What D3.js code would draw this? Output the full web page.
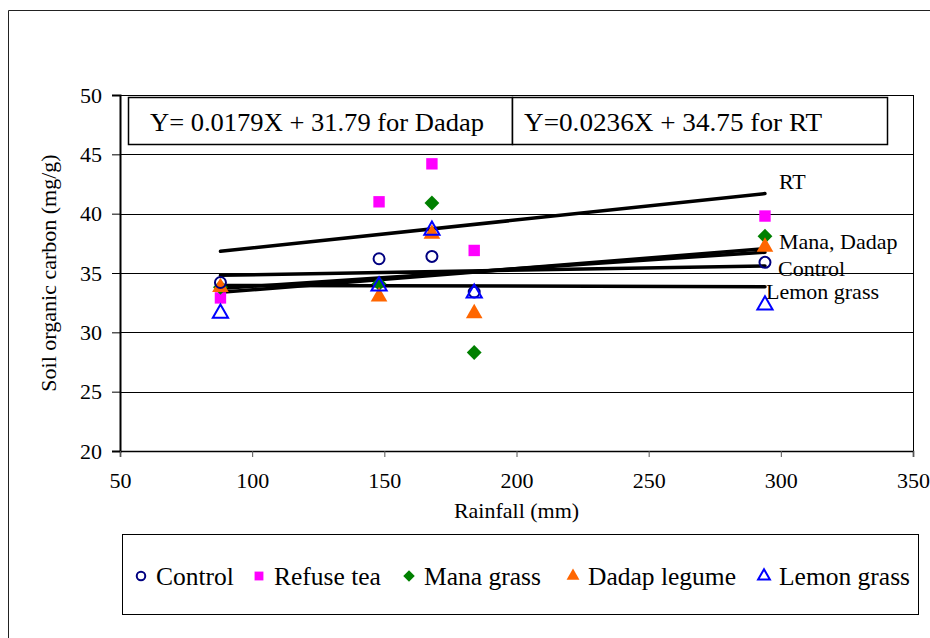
<!DOCTYPE html>
<html>
<head>
<meta charset="utf-8">
<script src="https://cdn.jsdelivr.net/npm/d3@7"></script>
<style>
  html, body { margin: 0; padding: 0; background: #fff; }
  svg { display: block; }
  text { font-family: "Liberation Serif", "Times New Roman", serif; fill: #000; }
</style>
</head>
<body>
<svg id="chart" width="930" height="638"></svg>
<script>
// ---- data ----
const rainfall = [88, 148, 168, 184, 294];
const seriesNames = ["Control", "Refuse tea", "Mana grass", "Dadap legume", "Lemon grass"];
const controlValues = [34.2, 36.2, 36.4, 33.4, 35.9];
const refuseTeaValues = [32.9, 41.0, 44.2, 36.9, 39.8];
const manaGrassValues = [33.8, 34.1, 40.9, 28.3, 38.1];
const dadapLegumeValues = [33.8, 33.0, 38.3, 31.6, 37.2];
const lemonGrassValues = [31.6, 33.9, 38.6, 33.3, 32.3];

const trendLabels = ["RT", "Mana, Dadap", "", "Control", "Lemon grass"];
const trendStart = [36.83, 33.7, 33.37, 34.8, 33.95];   // value at rainfall 88
const trendEnd = [41.69, 36.75, 37.05, 35.6, 33.85];    // value at rainfall 294
const trendX = [88, 294];

const equations = ["Y= 0.0179X + 31.79 for Dadap", "Y=0.0236X + 34.75 for RT"];
const xTicks = [50, 100, 150, 200, 250, 300, 350];
const yTicks = [20, 25, 30, 35, 40, 45, 50];

// ---- layout ----
const svg = d3.select("#chart");
const L = 120, R = 913, T = 95, B = 451;
const x = d3.scaleLinear().domain([50, 350]).range([L, R]);
const y = d3.scaleLinear().domain([20, 50]).range([B, T]);

// custom square diamond symbol
const squareDiamond = {
  draw(ctx, size) {
    const r = Math.sqrt(size / 2);
    ctx.moveTo(0, -r); ctx.lineTo(r, 0); ctx.lineTo(0, r); ctx.lineTo(-r, 0); ctx.closePath();
  }
};

// outer frame
svg.append("path").attr("d", "M8.5,638 V10.5 H930").attr("fill", "none").attr("stroke", "#222").attr("stroke-width", 1);

// grid lines
svg.append("g").selectAll("line").data(yTicks.filter(d => d > 20)).join("line")
  .attr("x1", L).attr("x2", R).attr("y1", d => Math.round(y(d)) + 0.5).attr("y2", d => Math.round(y(d)) + 0.5)
  .attr("stroke", "#000").attr("stroke-width", 1);
// right border
svg.append("line").attr("x1", R + 0.5).attr("x2", R + 0.5).attr("y1", T).attr("y2", B).attr("stroke", "#000");

// axes
const yAxis = svg.append("g").attr("transform", `translate(${L},0)`)
  .call(d3.axisLeft(y).tickValues(yTicks).tickSize(8).tickPadding(10).tickFormat(d3.format("d")));
const xAxis = svg.append("g").attr("transform", `translate(0,${B})`)
  .call(d3.axisBottom(x).tickValues(xTicks).tickSize(6).tickPadding(15).tickFormat(d3.format("d")));
[yAxis, xAxis].forEach(g => {
  g.attr("font-family", null);
  g.select(".domain").attr("stroke", "#000").attr("stroke-width", 1.5);
  g.selectAll(".tick line").attr("stroke", "#000");
  g.selectAll(".tick text").style("font-family", '"Liberation Serif", "Times New Roman", serif').style("font-size", "22px").attr("fill", "#000");
});
yAxis.select(".domain").attr("stroke-width", 2);
xAxis.selectAll(".tick line").attr("stroke", "#555");

// axis titles
svg.append("text").attr("x", (L + R) / 2).attr("y", 518).attr("text-anchor", "middle")
  .style("font-size", "22px").text("Rainfall (mm)");
svg.append("text").attr("transform", `translate(56,${(T + B) / 2}) rotate(-90)`).attr("text-anchor", "middle")
  .style("font-size", "22px").text("Soil organic carbon (mg/g)");

// equation boxes
const eqBoxes = [[128, 512], [512, 887]];
const eqTextX = [150, 524];
eqBoxes.forEach((b, i) => {
  svg.append("rect").attr("x", b[0] + 0.5).attr("y", 97.5).attr("width", b[1] - b[0]).attr("height", 47)
    .attr("fill", "#fff").attr("stroke", "#000").attr("stroke-width", 1.5);
  svg.append("text").attr("x", eqTextX[i]).attr("y", 131)
    .attr("textLength", i === 0 ? 334 : 298).attr("lengthAdjust", "spacingAndGlyphs")
    .style("font-size", "26px").text(equations[i]);
});

// trend lines
const trendG = svg.append("g");
trendStart.forEach((s, i) => {
  trendG.append("line")
    .attr("x1", x(trendX[0])).attr("x2", x(trendX[1]))
    .attr("y1", y(s)).attr("y2", y(trendEnd[i]))
    .attr("stroke", "#000").attr("stroke-width", 3.5).attr("stroke-linecap", "round");
});

// markers
const series = [
  { name: seriesNames[0], values: controlValues, type: d3.symbolCircle, fill: "none", stroke: "#000080", size: 95 },
  { name: seriesNames[1], values: refuseTeaValues, type: d3.symbolSquare, fill: "#FF00FF", stroke: "none", size: 130 },
  { name: seriesNames[2], values: manaGrassValues, type: squareDiamond, fill: "#008000", stroke: "none", size: 110 },
  { name: seriesNames[3], values: dadapLegumeValues, type: d3.symbolTriangle, fill: "#FF6600", stroke: "none", size: 120 },
  { name: seriesNames[4], values: lemonGrassValues, type: d3.symbolTriangle, fill: "none", stroke: "#0000FF", size: 100 }
];
const drawOrder = [1, 2, 3, 0, 4];
drawOrder.forEach(si => {
  const s = series[si];
  svg.append("g").selectAll("path").data(s.values).join("path")
    .attr("transform", (d, i) => `translate(${x(rainfall[i])},${y(d)})`)
    .attr("d", d3.symbol().type(s.type).size(s.size))
    .attr("fill", s.fill).attr("stroke", s.stroke).attr("stroke-width", 2);
});

// trend labels
const labelOffsets = [[14, -5], [14, -3], [0, 0], [13, 10], [1, 12]];
trendLabels.forEach((t, i) => {
  if (!t) return;
  svg.append("text")
    .attr("x", x(trendX[1]) + labelOffsets[i][0])
    .attr("y", y(trendEnd[i]) + labelOffsets[i][1])
    .style("font-size", "22px").text(t);
});

// legend
svg.append("rect").attr("x", 122.5).attr("y", 534.5).attr("width", 796).attr("height", 80)
  .attr("fill", "#fff").attr("stroke", "#000").attr("stroke-width", 1);
const legendMarkX = [141, 259, 409, 573, 764];
series.forEach((s, i) => {
  const g = svg.append("g").attr("transform", `translate(${legendMarkX[i]},576)`);
  g.append("path").attr("d", d3.symbol().type(s.type).size(s.size * 0.6))
    .attr("fill", s.fill).attr("stroke", s.stroke).attr("stroke-width", 2);
  g.append("text").attr("x", 15).attr("y", 9).style("font-size", "25.5px").text(s.name);
});
</script>
</body>
</html>
